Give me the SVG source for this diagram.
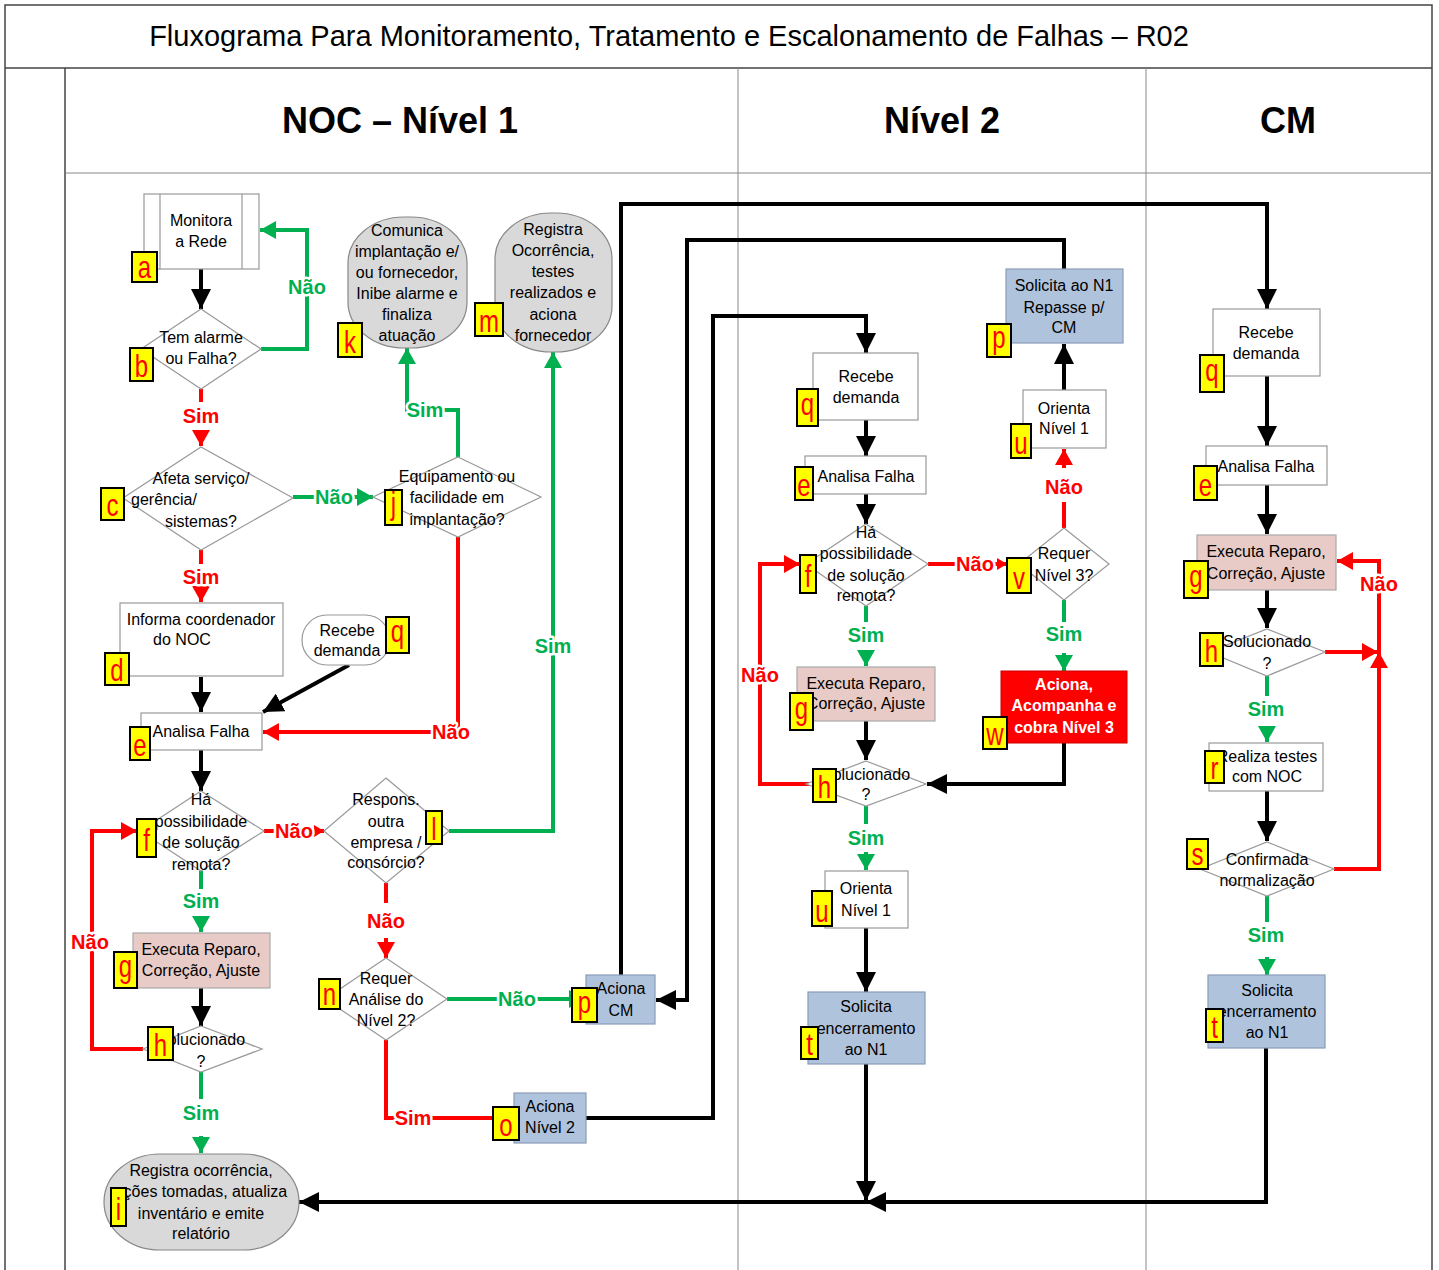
<svg xmlns="http://www.w3.org/2000/svg" width="1439" height="1270" viewBox="0 0 1439 1270">
<style>
.t{font-family:"Liberation Sans",Arial,sans-serif;font-size:16px;text-anchor:middle;fill:#000}
.tw{font-family:"Liberation Sans",Arial,sans-serif;font-size:16px;font-weight:bold;text-anchor:middle;fill:#fff}
.nd{fill:#fff;stroke:#999;stroke-width:1.2}
.gy{fill:#d9d9d9;stroke:#888;stroke-width:1.2}
.bl{fill:#b0c3dd;stroke:#8a9cb8;stroke-width:1.2}
.pk{fill:#e8cbc6;stroke:#aaa;stroke-width:1.2}
.rd{fill:#ff0000;stroke:#c00;stroke-width:1}
.lb rect{fill:#ffff00;stroke:#000;stroke-width:2}
.lb text{font-family:"Liberation Sans",Arial,sans-serif;font-size:24px;fill:#ff0000;text-anchor:middle}
.ck{fill:none;stroke:#000;stroke-width:4}
.cr{fill:none;stroke:#ff0000;stroke-width:4}
.cg{fill:none;stroke:#00b050;stroke-width:4}
.yes{font-family:"Liberation Sans",Arial,sans-serif;font-size:20px;font-weight:bold;fill:#00b050;text-anchor:middle;stroke:#fff;stroke-width:5;paint-order:stroke;stroke-linejoin:round}
.no{font-family:"Liberation Sans",Arial,sans-serif;font-size:20px;font-weight:bold;fill:#ff0000;text-anchor:middle;stroke:#fff;stroke-width:5;paint-order:stroke;stroke-linejoin:round}
.frame{fill:none;stroke:#444;stroke-width:1.5}
.lane{fill:none;stroke:#888;stroke-width:1}
.hd{font-family:"Liberation Sans",Arial,sans-serif;font-size:36px;font-weight:bold;text-anchor:middle;fill:#000}
</style>
<defs>
<marker id="ab" markerUnits="userSpaceOnUse" viewBox="0 0 20 20" markerWidth="20" markerHeight="20" refX="20" refY="10" orient="auto"><path d="M0,0 L20,10 L0,20 z" fill="#000"/></marker>
<marker id="ar" markerUnits="userSpaceOnUse" viewBox="0 0 16 18" markerWidth="16" markerHeight="18" refX="16" refY="9" orient="auto"><path d="M0,0 L16,9 L0,18 z" fill="#ff0000"/></marker>
<marker id="ars" markerUnits="userSpaceOnUse" viewBox="0 0 10 12" markerWidth="10" markerHeight="12" refX="10" refY="6" orient="auto"><path d="M0,0 L10,6 L0,12 z" fill="#ff0000"/></marker>
<marker id="ag" markerUnits="userSpaceOnUse" viewBox="0 0 16 18" markerWidth="16" markerHeight="18" refX="16" refY="9" orient="auto"><path d="M0,0 L16,9 L0,18 z" fill="#00b050"/></marker>
</defs>
<rect width="1439" height="1270" fill="#fff"/>
<!-- frame -->
<g id="frame">
<path class="frame" d="M5,1270 V5 H1432 V1270"/>
<path class="frame" d="M5,68 H1432 M65,68 V1270"/>
<path class="lane" d="M65,173 H1432 M738,68 V1270 M1146,68 V1270"/>
<text x="669" y="46" font-family="'Liberation Sans',Arial,sans-serif" font-size="29" text-anchor="middle">Fluxograma Para Monitoramento, Tratamento e Escalonamento de Falhas – R02</text>
<text class="hd" x="400" y="133">NOC – Nível 1</text>
<text class="hd" x="942" y="133">Nível 2</text>
<text class="hd" x="1288" y="133">CM</text>
</g>

<!-- connectors -->
<g id="connectors">
<!-- black -->
<path class="ck" marker-end="url(#ab)" d="M201,269 V309"/>
<path class="ck" marker-end="url(#ab)" d="M201,677 V712"/>
<path class="ck" marker-end="url(#ab)" d="M349,665 L263,712"/>
<path class="ck" marker-end="url(#ab)" d="M201,750 V791"/>
<path class="ck" marker-end="url(#ab)" d="M201,988 V1026"/>
<path class="ck" marker-end="url(#ab)" d="M621,975 V204 H1267 V309"/>
<path class="ck" marker-end="url(#ab)" d="M1064,269 V240 H687 V1000 H656"/>
<path class="ck" marker-end="url(#ab)" d="M586,1118 H713 V316 H866 V353"/>
<path class="ck" marker-end="url(#ab)" d="M866,420 V456"/>
<path class="ck" marker-end="url(#ab)" d="M866,494 V524"/>
<path class="ck" marker-end="url(#ab)" d="M866,721 V760"/>
<path class="ck" marker-end="url(#ab)" d="M1064,743 V784 H927"/>
<path class="ck" marker-end="url(#ab)" d="M866,928 V992"/>
<path class="ck" marker-end="url(#ab)" d="M866,1064 V1201"/>
<path class="ck" marker-end="url(#ab)" d="M1064,390 V344"/>
<path class="ck" marker-end="url(#ab)" d="M1267,376 V446"/>
<path class="ck" marker-end="url(#ab)" d="M1267,485 V534"/>
<path class="ck" marker-end="url(#ab)" d="M1267,590 V628"/>
<path class="ck" marker-end="url(#ab)" d="M1267,791 V841"/>
<path class="ck" marker-end="url(#ab)" d="M1266,1048 V1202 H299"/>
<path class="ck" marker-end="url(#ab)" d="M888,1202 H866"/>
<!-- red -->
<path class="cr" d="M201,389 V402"/>
<path class="cr" marker-end="url(#ar)" d="M201,430 V446"/>
<path class="cr" d="M201,550 V564"/>
<path class="cr" marker-end="url(#ar)" d="M201,588 V602"/>
<path class="cr" marker-end="url(#ar)" d="M458,537 V732 H263"/>
<path class="cr" marker-end="url(#ars)" d="M264,831 H324"/>
<path class="cr" d="M386,883 V903"/>
<path class="cr" marker-end="url(#ar)" d="M386,938 V958"/>
<path class="cr" d="M386,1040 V1118 H514"/>
<path class="cr" marker-end="url(#ar)" d="M143,1049 H92 V831 H137"/>
<path class="cr" marker-end="url(#ars)" d="M928,564 H1007"/>
<path class="cr" d="M1064,528 V502"/>
<path class="cr" marker-end="url(#ar)" d="M1064,468 V449"/>
<path class="cr" marker-end="url(#ar)" d="M812,784 H760 V564 H800"/>
<path class="cr" marker-end="url(#ar)" d="M1325,652 H1378"/>
<path class="cr" marker-end="url(#ar)" d="M1334,869 H1379 V561 H1337"/>
<path class="cr" marker-end="url(#ar)" d="M1379,672 V652"/>
<!-- green -->
<path class="cg" marker-end="url(#ag)" d="M261,349 H307 V230 H260"/>
<path class="cg" marker-end="url(#ag)" d="M293,497 H373"/>
<path class="cg" marker-end="url(#ag)" d="M458,457 V410 H407 V348"/>
<path class="cg" marker-end="url(#ag)" d="M449,831 H553 V352"/>
<path class="cg" marker-end="url(#ag)" d="M447,999 H585"/>
<path class="cg" d="M201,871 V889"/>
<path class="cg" marker-end="url(#ag)" d="M201,916 V932"/>
<path class="cg" d="M201,1072 V1099"/>
<path class="cg" marker-end="url(#ag)" d="M201,1136 V1153"/>
<path class="cg" d="M866,606 V622"/>
<path class="cg" marker-end="url(#ag)" d="M866,650 V666"/>
<path class="cg" d="M1064,600 V622"/>
<path class="cg" marker-end="url(#ag)" d="M1064,653 V671"/>
<path class="cg" d="M866,806 V824"/>
<path class="cg" marker-end="url(#ag)" d="M866,852 V870"/>
<path class="cg" d="M1267,676 V696"/>
<path class="cg" marker-end="url(#ag)" d="M1267,726 V742"/>
<path class="cg" d="M1267,896 V922"/>
<path class="cg" marker-end="url(#ag)" d="M1267,957 V975"/>
<!-- connector labels -->
<text class="yes" x="307" y="294">Não</text>
<text class="no" x="201" y="423">Sim</text>
<text class="no" x="201" y="584">Sim</text>
<text class="yes" x="334" y="504">Não</text>
<text class="yes" x="425" y="417">Sim</text>
<text class="no" x="451" y="739">Não</text>
<text class="no" x="294" y="838">Não</text>
<text class="yes" x="553" y="653">Sim</text>
<text class="no" x="386" y="928">Não</text>
<text class="yes" x="517" y="1006">Não</text>
<text class="no" x="413" y="1125">Sim</text>
<text class="yes" x="201" y="908">Sim</text>
<text class="no" x="90" y="949">Não</text>
<text class="yes" x="201" y="1120">Sim</text>
<text class="no" x="975" y="571">Não</text>
<text class="no" x="1064" y="494">Não</text>
<text class="yes" x="866" y="642">Sim</text>
<text class="yes" x="1064" y="641">Sim</text>
<text class="no" x="760" y="682">Não</text>
<text class="yes" x="866" y="845">Sim</text>
<text class="no" x="1379" y="591">Não</text>
<text class="yes" x="1266" y="716">Sim</text>
<text class="yes" x="1266" y="942">Sim</text>
</g>

<!-- NOC lane nodes -->
<g id="n1-a">
<rect class="nd" x="144" y="194" width="115" height="75"/>
<path d="M160,194 V269 M242,194 V269" stroke="#999" stroke-width="1.2"/>
<text class="t" x="201" y="226">Monitora</text>
<text class="t" x="201" y="247">a Rede</text>
</g>
<g id="n1-b">
<polygon class="nd" points="201,309 261,349 201,389 141,349"/>
<text class="t" x="201" y="343">Tem alarme</text>
<text class="t" x="201" y="364">ou Falha?</text>
</g>
<g id="n1-c">
<polygon class="nd" points="201,447 293,498 201,550 123,498"/>
<text class="t" x="201" y="484">Afeta serviço/</text>
<text class="t" x="131" y="505" style="text-anchor:start">gerência/</text>
<text class="t" x="201" y="527">sistemas?</text>
</g>
<g id="n1-j">
<polygon class="nd" points="458,457 541,497 458,537 373,497"/>
<text class="t" x="457" y="482">Equipamento ou</text>
<text class="t" x="457" y="503">facilidade em</text>
<text class="t" x="457" y="525">implantação?</text>
</g>
<g id="n1-k">
<rect class="gy" x="348" y="217" width="119" height="131" rx="56" ry="46"/>
<text class="t" x="407" y="236">Comunica</text>
<text class="t" x="407" y="257">implantação e/</text>
<text class="t" x="407" y="278">ou fornecedor,</text>
<text class="t" x="407" y="299">Inibe alarme e</text>
<text class="t" x="407" y="320">finaliza</text>
<text class="t" x="407" y="341">atuação</text>
</g>
<g id="n1-m">
<rect class="gy" x="495" y="213" width="117" height="139" rx="56" ry="46"/>
<text class="t" x="553" y="235">Registra</text>
<text class="t" x="553" y="256">Ocorrência,</text>
<text class="t" x="553" y="277">testes</text>
<text class="t" x="553" y="298">realizados e</text>
<text class="t" x="553" y="320">aciona</text>
<text class="t" x="553" y="341">fornecedor</text>
</g>
<g id="n1-d">
<rect class="nd" x="120" y="603" width="163" height="73"/>
<text class="t" x="201" y="625">Informa coordenador</text>
<text class="t" x="182" y="645">do NOC</text>
</g>
<g id="n1-q">
<rect class="nd" x="302" y="615" width="88" height="50" rx="25" ry="25"/>
<text class="t" x="347" y="636">Recebe</text>
<text class="t" x="347" y="656">demanda</text>
</g>
<g id="n1-e">
<rect class="nd" x="141" y="713" width="121" height="37"/>
<text class="t" x="201" y="737">Analisa Falha</text>
</g>
<g id="n1-f">
<polygon class="nd" points="201,791 264,831 201,871 140,831"/>
<text class="t" x="201" y="805">Há</text>
<text class="t" x="201" y="827">possibilidade</text>
<text class="t" x="201" y="848">de solução</text>
<text class="t" x="201" y="870">remota?</text>
</g>
<g id="n1-l">
<polygon class="nd" points="386,778 449,831 386,883 324,831"/>
<text class="t" x="386" y="805">Respons.</text>
<text class="t" x="386" y="827">outra</text>
<text class="t" x="386" y="848">empresa /</text>
<text class="t" x="386" y="868">consórcio?</text>
</g>
<g id="n1-n">
<polygon class="nd" points="386,958 447,999 386,1040 325,999"/>
<text class="t" x="386" y="984">Requer</text>
<text class="t" x="386" y="1005">Análise do</text>
<text class="t" x="386" y="1026">Nível 2?</text>
</g>
<g id="n1-p">
<rect class="bl" x="586" y="975" width="69" height="49"/>
<text class="t" x="621" y="994">Aciona</text>
<text class="t" x="621" y="1016">CM</text>
</g>
<g id="n1-o">
<rect class="bl" x="514" y="1093" width="72" height="50"/>
<text class="t" x="550" y="1112">Aciona</text>
<text class="t" x="550" y="1133">Nível 2</text>
</g>
<g id="n1-g">
<rect class="pk" x="133" y="933" width="137" height="55"/>
<text class="t" x="201" y="955">Executa Reparo,</text>
<text class="t" x="201" y="976">Correção, Ajuste</text>
</g>
<g id="n1-h">
<polygon class="nd" points="201,1026 262,1049 201,1072 143,1049"/>
<text class="t" x="201" y="1045">Solucionado</text>
<text class="t" x="201" y="1067">?</text>
</g>
<g id="n1-i">
<rect class="gy" x="104" y="1154" width="195" height="96" rx="56" ry="48"/>
<text class="t" x="201" y="1176">Registra ocorrência,</text>
<text class="t" x="201" y="1197">ações tomadas, atualiza</text>
<text class="t" x="201" y="1219">inventário e emite</text>
<text class="t" x="201" y="1239">relatório</text>
</g>

<!-- Nivel 2 lane nodes -->
<g id="n2-q">
<rect class="nd" x="813" y="353" width="105" height="67"/>
<text class="t" x="866" y="382">Recebe</text>
<text class="t" x="866" y="403">demanda</text>
</g>
<g id="n2-e">
<rect class="nd" x="805" y="456" width="121" height="38"/>
<text class="t" x="866" y="482">Analisa Falha</text>
</g>
<g id="n2-f">
<polygon class="nd" points="866,524 928,564 866,606 806,564"/>
<text class="t" x="866" y="538">Há</text>
<text class="t" x="866" y="559">possibilidade</text>
<text class="t" x="866" y="581">de solução</text>
<text class="t" x="866" y="601">remota?</text>
</g>
<g id="n2-v">
<polygon class="nd" points="1064,528 1109,564 1064,600 1019,564"/>
<text class="t" x="1064" y="559">Requer</text>
<text class="t" x="1064" y="581">Nível 3?</text>
</g>
<g id="n2-u1">
<rect class="nd" x="1023" y="390" width="83" height="58"/>
<text class="t" x="1064" y="414">Orienta</text>
<text class="t" x="1064" y="434">Nível 1</text>
</g>
<g id="n2-p">
<rect class="bl" x="1006" y="269" width="117" height="74"/>
<text class="t" x="1064" y="291">Solicita ao N1</text>
<text class="t" x="1064" y="313">Repasse p/</text>
<text class="t" x="1064" y="333">CM</text>
</g>
<g id="n2-g">
<rect class="pk" x="797" y="667" width="138" height="54"/>
<text class="t" x="866" y="689">Executa Reparo,</text>
<text class="t" x="866" y="709">Correção, Ajuste</text>
</g>
<g id="n2-w">
<rect class="rd" x="1001" y="671" width="126" height="72"/>
<text class="tw" x="1064" y="690">Aciona,</text>
<text class="tw" x="1064" y="711">Acompanha e</text>
<text class="tw" x="1064" y="733">cobra Nível 3</text>
</g>
<g id="n2-h">
<polygon class="nd" points="866,761 926,784 866,806 806,784"/>
<text class="t" x="866" y="780">Solucionado</text>
<text class="t" x="866" y="800">?</text>
</g>
<g id="n2-u2">
<rect class="nd" x="825" y="871" width="83" height="57"/>
<text class="t" x="866" y="894">Orienta</text>
<text class="t" x="866" y="916">Nível 1</text>
</g>
<g id="n2-t">
<rect class="bl" x="808" y="992" width="117" height="72"/>
<text class="t" x="866" y="1012">Solicita</text>
<text class="t" x="866" y="1034">encerramento</text>
<text class="t" x="866" y="1055">ao N1</text>
</g>

<!-- CM lane nodes -->
<g id="cm-q">
<rect class="nd" x="1213" y="309" width="107" height="67"/>
<text class="t" x="1266" y="338">Recebe</text>
<text class="t" x="1266" y="359">demanda</text>
</g>
<g id="cm-e">
<rect class="nd" x="1206" y="446" width="121" height="39"/>
<text class="t" x="1266" y="472">Analisa Falha</text>
</g>
<g id="cm-g">
<rect class="pk" x="1197" y="535" width="139" height="55"/>
<text class="t" x="1266" y="557">Executa Reparo,</text>
<text class="t" x="1266" y="579">Correção, Ajuste</text>
</g>
<g id="cm-h">
<polygon class="nd" points="1267,629 1325,652 1267,676 1209,652"/>
<text class="t" x="1267" y="647">Solucionado</text>
<text class="t" x="1267" y="669">?</text>
</g>
<g id="cm-r">
<rect class="nd" x="1209" y="743" width="114" height="48"/>
<text class="t" x="1267" y="762">Realiza testes</text>
<text class="t" x="1267" y="782">com NOC</text>
</g>
<g id="cm-s">
<polygon class="nd" points="1267,842 1334,869 1267,896 1200,869"/>
<text class="t" x="1267" y="865">Confirmada</text>
<text class="t" x="1267" y="886">normalização</text>
</g>
<g id="cm-t">
<rect class="bl" x="1208" y="975" width="117" height="73"/>
<text class="t" x="1267" y="996">Solicita</text>
<text class="t" x="1267" y="1017">encerramento</text>
<text class="t" x="1267" y="1038">ao N1</text>
</g>

<!-- letter labels -->
<g id="labels" class="lb">
<rect x="132" y="252" width="25" height="30"/><text transform="translate(144.5,278) scale(1,1.3)">a</text>
<rect x="130" y="348" width="23" height="33"/><text transform="translate(141.5,377) scale(1,1.3)">b</text>
<rect x="101" y="488" width="23" height="32"/><text transform="translate(112.5,516) scale(1,1.3)">c</text>
<rect x="105" y="653" width="24" height="32"/><text transform="translate(117,681) scale(1,1.3)">d</text>
<rect x="386" y="617" width="23" height="36"/><text transform="translate(397.5,642) scale(1,1.3)">q</text>
<rect x="130" y="727" width="20" height="33"/><text transform="translate(140,756) scale(1,1.3)">e</text>
<rect x="137" y="819" width="19" height="38"/><text transform="translate(146.5,851) scale(1,1.3)">f</text>
<rect x="114" y="952" width="23" height="36"/><text transform="translate(125.5,977) scale(1,1.3)">g</text>
<rect x="148" y="1027" width="25" height="33"/><text transform="translate(160.5,1056) scale(1,1.3)">h</text>
<rect x="111" y="1188" width="15" height="38"/><text transform="translate(118.5,1220) scale(1,1.3)">i</text>
<rect x="385" y="490" width="17" height="35"/><text transform="translate(393.5,514) scale(1,1.3)">j</text>
<rect x="338" y="323" width="24" height="34"/><text transform="translate(350,353) scale(1,1.3)">k</text>
<rect x="426" y="811" width="16" height="33"/><text transform="translate(434,840) scale(1,1.3)">l</text>
<rect x="475" y="303" width="28" height="33"/><text transform="translate(489,332) scale(1,1.3)">m</text>
<rect x="319" y="979" width="21" height="30"/><text transform="translate(329.5,1005) scale(1,1.3)">n</text>
<rect x="493" y="1107" width="26" height="33"/><text transform="translate(506,1136) scale(1,1.3)">o</text>
<rect x="572" y="988" width="25" height="34"/><text transform="translate(584.5,1013) scale(1,1.3)">p</text>
<rect x="797" y="389" width="21" height="37"/><text transform="translate(807.5,415) scale(1,1.3)">q</text>
<rect x="795" y="467" width="18" height="33"/><text transform="translate(804,496) scale(1,1.3)">e</text>
<rect x="800" y="555" width="16" height="38"/><text transform="translate(808,587) scale(1,1.3)">f</text>
<rect x="790" y="693" width="23" height="37"/><text transform="translate(801.5,719) scale(1,1.3)">g</text>
<rect x="813" y="769" width="23" height="33"/><text transform="translate(824.5,798) scale(1,1.3)">h</text>
<rect x="987" y="324" width="24" height="33"/><text transform="translate(999,348) scale(1,1.3)">p</text>
<rect x="1011" y="424" width="20" height="34"/><text transform="translate(1021,454) scale(1,1.3)">u</text>
<rect x="1007" y="558" width="24" height="35"/><text transform="translate(1019,589) scale(1,1.3)">v</text>
<rect x="983" y="717" width="24" height="32"/><text transform="translate(995,745) scale(1,1.3)">w</text>
<rect x="812" y="891" width="20" height="35"/><text transform="translate(822,922) scale(1,1.3)">u</text>
<rect x="801" y="1027" width="17" height="32"/><text transform="translate(809.5,1055) scale(1,1.3)">t</text>
<rect x="1200" y="355" width="24" height="37"/><text transform="translate(1212,381) scale(1,1.3)">q</text>
<rect x="1194" y="466" width="23" height="34"/><text transform="translate(1205.5,496) scale(1,1.3)">e</text>
<rect x="1184" y="561" width="24" height="37"/><text transform="translate(1196,587) scale(1,1.3)">g</text>
<rect x="1200" y="633" width="23" height="33"/><text transform="translate(1211.5,662) scale(1,1.3)">h</text>
<rect x="1205" y="751" width="19" height="32"/><text transform="translate(1214.5,779) scale(1,1.3)">r</text>
<rect x="1187" y="839" width="21" height="30"/><text transform="translate(1197.5,865) scale(1,1.3)">s</text>
<rect x="1206" y="1009" width="17" height="33"/><text transform="translate(1214.5,1038) scale(1,1.3)">t</text>
</g>
</svg>
